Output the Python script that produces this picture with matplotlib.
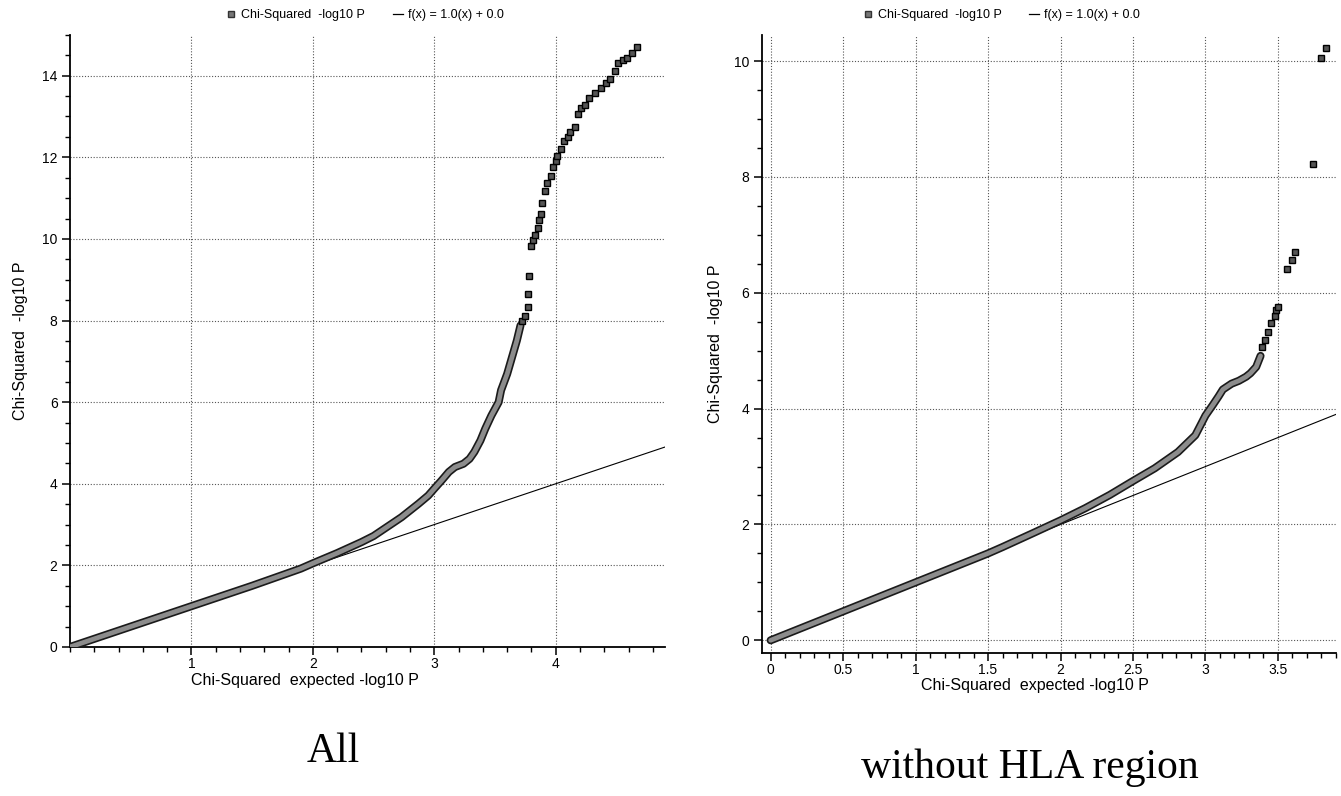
import matplotlib
matplotlib.use("Agg")
import matplotlib.pyplot as plt
import matplotlib.patheffects as pe
from matplotlib.lines import Line2D
from matplotlib.ticker import MultipleLocator

# ---- Panel "All": observed vs expected -log10 P ----
all_band_expected = [0.0, 0.5, 1.0, 1.5, 1.9, 2.0, 2.2, 2.4, 2.5, 2.59, 2.73, 2.87,
                     2.95, 3.0, 3.06, 3.12, 3.17, 3.24, 3.29, 3.33, 3.38, 3.42, 3.47,
                     3.53, 3.55, 3.60, 3.64, 3.68, 3.71]
all_band_observed = [0.0, 0.5, 1.0, 1.5, 1.92, 2.05, 2.3, 2.57, 2.72, 2.90, 3.18, 3.51,
                     3.71, 3.88, 4.08, 4.29, 4.41, 4.49, 4.61, 4.78, 5.06, 5.35, 5.67,
                     6.0, 6.29, 6.69, 7.1, 7.51, 7.88]
all_tail_expected = [3.72, 3.75, 3.77, 3.77, 3.78, 3.80, 3.81, 3.83, 3.85, 3.86, 3.88,
                     3.89, 3.91, 3.93, 3.96, 3.98, 4.00, 4.01, 4.04, 4.07, 4.10, 4.12,
                     4.16, 4.18, 4.21, 4.24, 4.27, 4.32, 4.37, 4.41, 4.45, 4.49, 4.51,
                     4.55, 4.59, 4.63, 4.67]
all_tail_observed = [8.0, 8.12, 8.32, 8.65, 9.09, 9.83, 9.98, 10.1, 10.26, 10.47, 10.6,
                     10.88, 11.17, 11.38, 11.55, 11.75, 11.92, 12.04, 12.21, 12.39, 12.5,
                     12.62, 12.74, 13.06, 13.2, 13.28, 13.45, 13.57, 13.69, 13.82, 13.92,
                     14.11, 14.31, 14.38, 14.44, 14.56, 14.71]

# ---- Panel "without HLA region" ----
hla_band_expected = [0.0, 0.5, 1.0, 1.5, 1.6, 1.81, 2.0, 2.17, 2.34, 2.5, 2.65, 2.81,
                     2.93, 3.0, 3.05, 3.09, 3.12, 3.18, 3.23, 3.28, 3.31, 3.35, 3.38]
hla_band_observed = [0.0, 0.5, 1.0, 1.5, 1.61, 1.85, 2.07, 2.28, 2.51, 2.75, 2.97, 3.25,
                     3.54, 3.88, 4.06, 4.21, 4.33, 4.43, 4.48, 4.55, 4.61, 4.72, 4.91]
hla_tail_expected = [3.39, 3.41, 3.43, 3.45, 3.48, 3.49, 3.50, 3.565, 3.595, 3.62,
                     3.74, 3.80, 3.83]
hla_tail_observed = [5.07, 5.18, 5.33, 5.47, 5.60, 5.70, 5.75, 6.41, 6.56, 6.70,
                     8.23, 10.06, 10.23]

legend_labels = ["Chi-Squared  -log10 P", "f(x) = 1.0(x) + 0.0"]
x_label = "Chi-Squared  expected -log10 P"
y_label = "Chi-Squared  -log10 P"
captions = ["All", "without HLA region"]

plt.rcParams["font.family"] = ["Liberation Sans", "DejaVu Sans"]

fig = plt.figure(figsize=(13.41, 7.96), dpi=100)
fig.patch.set_facecolor("white")

BAND_CORE = "#8c8c8c"
GRID_KW = dict(color="#555555", linestyle=(0, (1, 1.6)), linewidth=0.8)


def draw_panel(rect, band_x, band_y, tail_x, tail_y, xlim, ylim,
               xminor, yminor, xticks, yticks,
               xlabel_pos, ylabel_pos, legend_center):
    ax = fig.add_axes(rect)
    ax.set_xlim(*xlim)
    ax.set_ylim(*ylim)

    for s in ("top", "right"):
        ax.spines[s].set_visible(False)
    for s in ("left", "bottom"):
        ax.spines[s].set_linewidth(1.3)
        ax.spines[s].set_color("black")

    ax.set_xticks(xticks)
    ax.set_yticks(yticks)
    ax.xaxis.set_minor_locator(MultipleLocator(xminor))
    ax.yaxis.set_minor_locator(MultipleLocator(yminor))
    ax.tick_params(which="major", length=6, width=1.1, labelsize=10, direction="out")
    ax.tick_params(axis="x", which="major", pad=1.5)
    ax.tick_params(axis="y", which="major", pad=3)
    ax.tick_params(which="minor", length=3.5, width=1.0, direction="out")
    ax.grid(True, which="major", **GRID_KW)
    ax.set_axisbelow(True)

    # identity reference line f(x) = x
    ax.plot([0, xlim[1]], [0, xlim[1]], color="black", linewidth=0.8, zorder=3)

    # dense part of the QQ cloud
    ax.plot(band_x, band_y, color=BAND_CORE, linewidth=3.4, solid_capstyle="round",
            solid_joinstyle="round", zorder=4,
            path_effects=[pe.Stroke(linewidth=5.8, foreground="#1a1a1a"), pe.Normal()])
    # sparse upper tail
    ax.plot(tail_x, tail_y, linestyle="none", marker="s", markersize=4.2,
            markerfacecolor="#555555", markeredgecolor="black", markeredgewidth=1.0,
            zorder=5)

    ax.set_xlabel(x_label, fontsize=11.5)
    ax.xaxis.set_label_coords(*xlabel_pos)
    ax.set_ylabel(y_label, fontsize=11.5)
    ax.yaxis.set_label_coords(*ylabel_pos)

    handles = [
        Line2D([], [], linestyle="none", marker="s", markersize=5,
               markerfacecolor="#777777", markeredgecolor="#333333"),
        Line2D([], [], color="black", linewidth=0.9),
    ]
    fig.legend(handles, legend_labels, loc="center", ncol=2, frameon=False,
               fontsize=9, bbox_to_anchor=legend_center, handlelength=0.8,
               handletextpad=0.4, columnspacing=2.2)
    return ax


ax1 = draw_panel([0.0522, 0.1872, 0.4437, 0.769],
                 all_band_expected, all_band_observed,
                 all_tail_expected, all_tail_observed,
                 xlim=(0.0, 4.9), ylim=(0.0, 15.0),
                 xminor=0.2, yminor=0.5,
                 xticks=[1, 2, 3, 4], yticks=list(range(0, 15, 2)),
                 xlabel_pos=(0.395, -0.042), ylabel_pos=(-0.07, 0.5),
                 legend_center=(0.272, 0.981))

ax2 = draw_panel([0.5682, 0.1796, 0.428, 0.7764],
                 hla_band_expected, hla_band_observed,
                 hla_tail_expected, hla_tail_observed,
                 xlim=(-0.06, 3.9), ylim=(-0.22, 10.45),
                 xminor=0.1, yminor=0.5,
                 xticks=[0, 0.5, 1, 1.5, 2, 2.5, 3, 3.5], yticks=list(range(0, 11, 2)),
                 xlabel_pos=(0.476, -0.04), ylabel_pos=(-0.068, 0.5),
                 legend_center=(0.747, 0.981))
ax2.set_xticklabels(["0", "0.5", "1", "1.5", "2", "2.5", "3", "3.5"])

fig.text(333 / 1341, 1 - 752 / 796, captions[0], fontsize=30, ha="center", va="center",
         family=["Liberation Serif", "DejaVu Serif"])
fig.text(1030 / 1341, 1 - 768 / 796, captions[1], fontsize=30, ha="center", va="center",
         family=["Liberation Serif", "DejaVu Serif"])

fig.savefig("out.png", dpi=100, facecolor="white")
